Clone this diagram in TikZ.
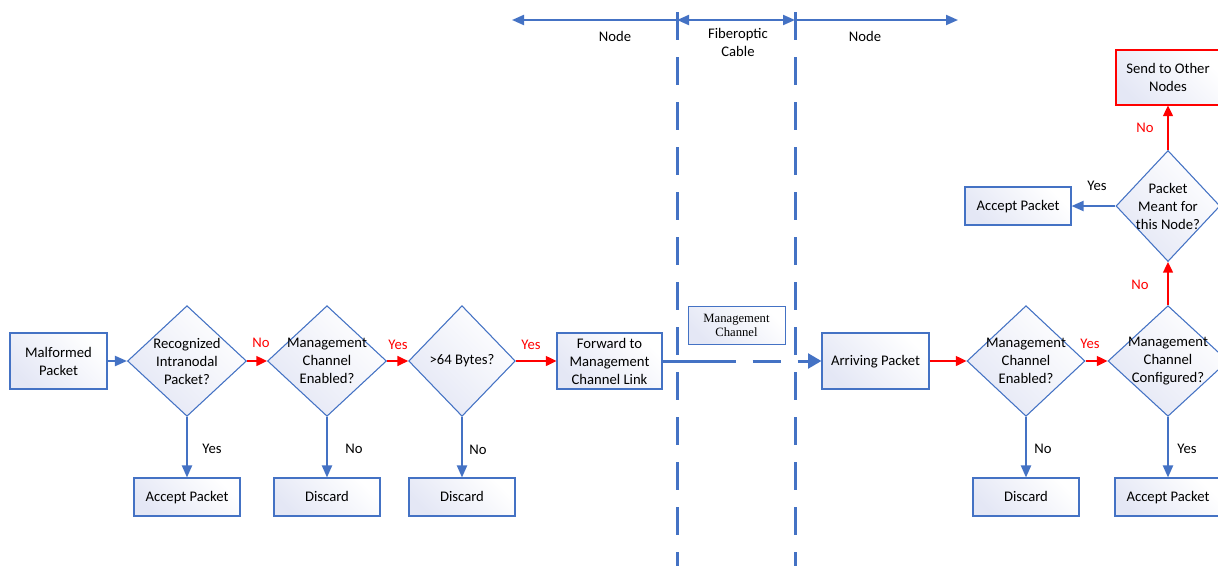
\documentclass[tikz,border=0pt]{standalone}
\usepackage{fontspec}
\setmainfont{Carlito}
\newfontfamily\mcserif{Liberation Serif}
\usepackage{xcolor}
\usetikzlibrary{arrows.meta}
\usetikzlibrary{shapes.geometric}
\usetikzlibrary{positioning}

\definecolor{flowblue}{HTML}{4472C4}
\definecolor{boxshade}{HTML}{E4E7F5}
\definecolor{flowred}{HTML}{FF0000}

\tikzset{
  box/.style={draw=flowblue, line width=0.8pt, top color=boxshade, bottom color=white,
    shading angle=135, align=center, inner sep=0pt},
  bigbox/.style={box, minimum width=78.75pt, minimum height=42pt},
  endbox/.style={box, minimum width=79.5pt, minimum height=28.5pt, text height=8pt, text depth=1pt},
  dia/.style={diamond, draw=flowblue, line width=0.8pt, top color=boxshade, bottom color=white,
    shading angle=135, inner sep=0pt, minimum height=83pt},
  flow/.style={draw=flowblue, line width=1.5pt, -{Triangle[length=9pt,width=7.5pt]}},
  redflow/.style={draw=flowred, line width=1.1pt, -{Triangle[length=8pt,width=7.5pt]}},
  span/.style={draw=flowblue, line width=1.5pt, -{Triangle[length=9pt,width=7.5pt]}},
  divider/.style={draw=flowblue, line width=2.25pt, dash pattern=on 21pt off 12.75pt},
  lbl/.style={inner sep=0pt},
  redlbl/.style={inner sep=0pt, text=flowred}
}

\begin{document}
\begin{tikzpicture}[x=0.75pt, y=-0.75pt, font=\fontsize{11}{13.5}\selectfont]
\useasboundingbox (0,0) rectangle (1218,565);
\clip (0,0) rectangle (1218,565);

% node / cable / node bands
\coordinate (lt) at (677,12);
\coordinate (lb) at (677,575);
\coordinate (rt) at (795,12);
\coordinate (rb) at (795,575);
\coordinate (al) at (512,20);
\coordinate (am1) at (677,20);
\coordinate (am2) at (795,20);
\coordinate (ar) at (958,20);
\draw[divider] (lt) -- (lb);
\draw[divider] (rt) -- (rb);
\draw[span] (am1) -- (al);
\draw[span, {Triangle[length=9pt,width=7.5pt]}-{Triangle[length=9pt,width=7.5pt]}] (am1) -- (am2);
\draw[span] (am2) -- (ar);
\node[lbl] (nodeL) at (615,36) {Node};
\node[lbl, align=center] (cable) at (738,42.5) {Fiberoptic\\Cable};
\node[lbl] (nodeR) at (865,36) {Node};

% sending node
\node[box, minimum width=72.75pt, minimum height=42pt] (mal) at (58.5,361) {Malformed\\Packet};
\node[dia, minimum width=89.25pt, label={[align=center]center:Recognized\\Intranodal\\Packet?}] (d1) at (187,361) {};
\node[dia, minimum width=89.25pt, label={[align=center]center:Management\\Channel\\Enabled?}] (d2) at (327,361) {};
\node[dia, minimum width=80pt, label={center:>64 Bytes?}] (d3) at (462,361) {};
\node[bigbox] (fwd) at (609.5,361) {Forward to\\Management\\Channel Link};
\node[endbox] (acc1) at (187,497) {Accept Packet};
\node[endbox] (dis1) at (327,497) {Discard};
\node[endbox] (dis2) at (462,497) {Discard};

\draw[flow] (mal) -- (d1);
\draw[redflow] (d1) -- (d2);
\draw[redflow] (d2) -- (d3);
\draw[redflow] (d3) -- (fwd);
\draw[flow] (d1) -- (acc1);
\draw[flow] (d2) -- (dis1);
\draw[flow] (d3) -- (dis2);
\node[redlbl] (no1) at (261,343) {No};
\node[redlbl] (yes1) at (398,345) {Yes};
\node[redlbl] (yes2) at (531,345) {Yes};
\node[lbl] (yes3) at (212,449) {Yes};
\node[lbl] (no2) at (354,449) {No};
\node[lbl] (no3) at (478,450) {No};

% management channel over the cable
\node[box, minimum width=72.75pt, minimum height=28.5pt, line width=0.6pt,
  font=\mcserif\fontsize{9.5}{10.5}\selectfont] (mgmt) at (736.5,325) {Management\\Channel};
\node[bigbox, minimum width=80.25pt, text height=8pt, text depth=1pt] (arr) at (875.5,361) {Arriving Packet};
\draw[draw=flowblue, line width=2.25pt, dash pattern=on 54.75pt off 12.75pt on 21pt off 12.75pt,
  -{Triangle[length=10pt,width=11pt]}] (fwd) -- (arr);

% receiving node
\node[dia, minimum width=88.5pt, label={[align=center]center:Management\\Channel\\Enabled?}] (d4) at (1026,361) {};
\node[dia, minimum width=90pt, label={[align=center]center:Management\\Channel\\Configured?}] (d5) at (1168,361) {};
\node[dia, minimum width=78pt, minimum height=83.25pt, label={[align=center]center:Packet\\Meant for\\this Node?}] (d6) at (1168,206) {};
\node[endbox] (dis3) at (1026,497) {Discard};
\node[endbox] (acc2) at (1168,497) {Accept Packet};
\node[endbox] (acc3) at (1018,206) {Accept Packet};
\node[box, draw=flowred, minimum width=78pt, minimum height=41.25pt] (send) at (1168,77.5) {Send to Other\\Nodes};

\draw[redflow] (arr) -- (d4);
\draw[redflow] (d4) -- (d5);
\draw[redflow] (d5) -- (d6);
\draw[redflow] (d6) -- (send);
\draw[flow] (d4) -- (dis3);
\draw[flow] (d5) -- (acc2);
\draw[flow] (d6) -- (acc3);
\node[redlbl] (yes4) at (1090,344) {Yes};
\node[redlbl] (no4) at (1140,285) {No};
\node[redlbl] (no5) at (1145,128) {No};
\node[lbl] (no6) at (1043,449) {No};
\node[lbl] (yes5) at (1187,449) {Yes};
\node[lbl] (yes6) at (1097,186) {Yes};
\end{tikzpicture}
\end{document}
